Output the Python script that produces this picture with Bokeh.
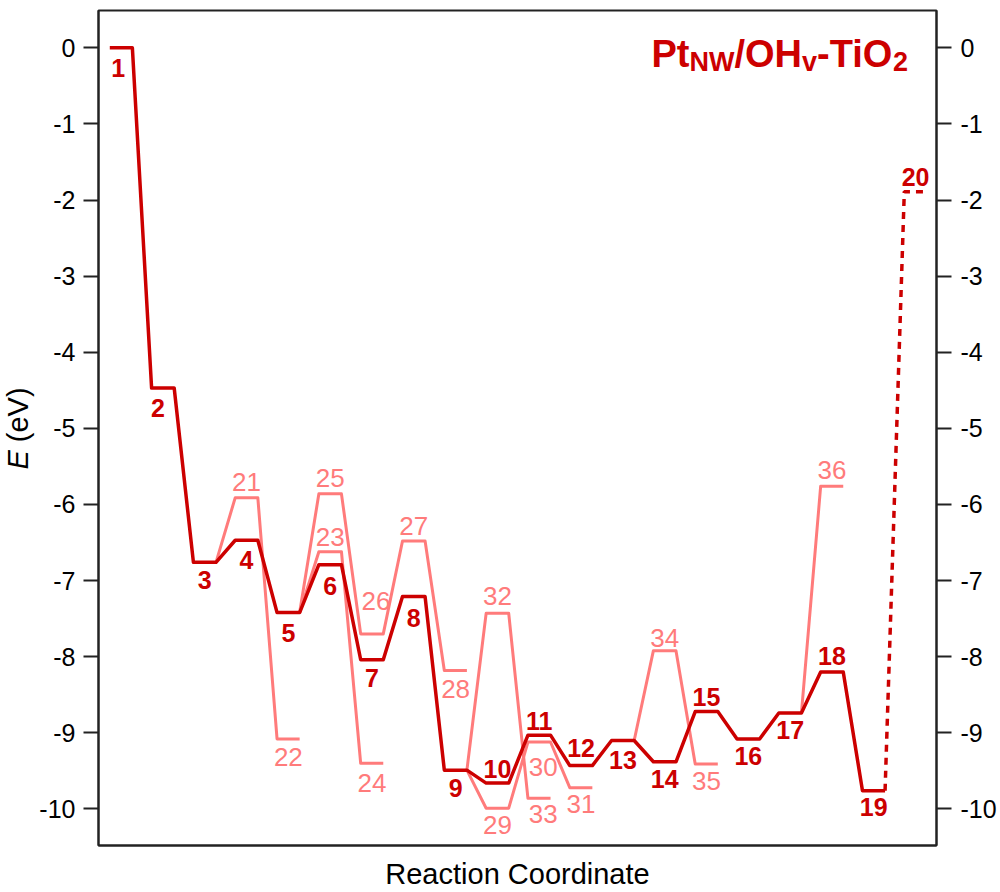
import math
from bokeh.plotting import figure
from bokeh.layouts import row
from bokeh.models import Label, LinearAxis, FixedTicker, Range1d, ColumnDataSource
from bokeh.core.properties import value
from bokeh.embed import file_html
from bokeh.resources import INLINE

# ---------------- data ----------------
main_labels = [str(i) for i in range(1, 21)]
main_pos = list(range(1, 21))
main_E = [0.00, -4.47, -6.76, -6.47, -7.42, -6.79, -8.04, -7.21, -9.49, -9.66,
          -9.03, -9.43, -9.10, -9.38, -8.72, -9.08, -8.74, -8.20, -9.76, -1.89]

side_labels = [str(i) for i in range(21, 37)]
side_pos = [4, 5, 6, 7, 6, 7, 8, 9, 10, 11, 12, 10, 11, 14, 15, 18]
side_E = [-5.91, -9.08, -6.62, -9.40, -5.86, -7.70, -6.48, -8.18,
          -9.99, -9.12, -9.72, -7.43, -9.86, -7.92, -9.41, -5.76]

branches = [["3", "21", "22"], ["5", "23", "24"], ["5", "25", "26", "27", "28"],
            ["9", "29", "30", "31"], ["9", "32", "33"], ["13", "34", "35"], ["17", "36"]]

y_ticks = list(range(-10, 1))
y_tick_text = [str(t) for t in y_ticks]

# ---------------- styles ----------------
DARK = "#CC0000"
PINK = "#FF7B7B"
AXC = "#222222"
HALF = 0.27
FONT = "Liberation Sans"
YLAB_W = 36
FRAME_TOP, FRAME_BOTTOM = 10, 847
# label offsets in pixels (+ = down)
main_dy = [20, 20, 18, 20, 20, 21, 18, 21, 18, -14, -14, -18, 20, 17, -15, 17, 17, -16, 16, -15]
main_dx = [-3, -5, 0, 0, 0, 0, 0, 0, 0, 0, 0, 0, 0, 0, 0, 0, 0, 0, 0, 0]
side_dy = [-16, 18, -15, 20, -16, -33, -15, 19, 17, 25, 16, -17, 16, -13, 17, -16]
side_dx = [0, 0, 0, 0, 0, 4, 0, 0, 0, 4, 0, 0, 4, 0, 0, 0]

pos = dict(zip(main_labels + side_labels, main_pos + side_pos))
E = dict(zip(main_labels + side_labels, main_E + side_E))


def path(states, from_right_end=False):
    xs, ys = [], []
    for k, s in enumerate(states):
        if k == 0 and from_right_end:
            xs.append(pos[s] + HALF)
            ys.append(E[s])
        else:
            xs += [pos[s] - HALF, pos[s] + HALF]
            ys += [E[s], E[s]]
    return xs, ys


p = figure(width=1000 - YLAB_W, height=892, x_range=Range1d(0.46, 20.5), y_range=Range1d(-10.48, 0.49),
           output_backend="svg", toolbar_location=None, title=None,
           x_axis_location="below", y_axis_location="left",
           min_border_left=97 - YLAB_W, min_border_right=64,
           min_border_top=FRAME_TOP, min_border_bottom=892 - FRAME_BOTTOM)
p.xgrid.visible = False
p.ygrid.visible = False
p.outline_line_color = AXC
p.outline_line_width = 2
p.background_fill_color = "white"
p.border_fill_color = "white"

# side branches (pink)
for br in branches:
    xs, ys = path(br, from_right_end=True)
    p.line(xs, ys, line_color=PINK, line_width=3, line_join="round")

# main pathway
xs, ys = path(main_labels[:19])
p.line(xs, ys, line_color=DARK, line_width=3.5, line_join="round")
xs, ys = path(main_labels[18:20], from_right_end=True)
p.line(xs, ys, line_color=DARK, line_width=3.5, line_dash="7 6")

# state labels
src_side = ColumnDataSource(dict(x=side_pos, y=side_E, text=side_labels, dx=side_dx, dy=side_dy))
p.text(x="x", y="y", text="text", x_offset="dx", y_offset="dy", source=src_side,
       text_color=PINK, text_font=value(FONT), text_font_size="26px",
       text_align="center", text_baseline="middle")
src_main = ColumnDataSource(dict(x=main_pos, y=main_E, text=main_labels, dx=main_dx, dy=main_dy))
p.text(x="x", y="y", text="text", x_offset="dx", y_offset="dy", source=src_main,
       text_color=DARK, text_font=value(FONT), text_font_size="25px", text_font_style="bold",
       text_align="center", text_baseline="middle")

# axes
def style_axis(ax, standoff):
    ax.ticker = FixedTicker(ticks=y_ticks)
    ax.major_label_overrides = dict(zip(y_ticks, y_tick_text))
    ax.axis_line_color = AXC
    ax.axis_line_width = 2
    ax.major_tick_line_color = AXC
    ax.major_tick_line_width = 2
    ax.major_tick_out = 15
    ax.major_tick_in = 0
    ax.minor_tick_line_color = None
    ax.major_label_standoff = standoff
    ax.major_label_text_font = FONT
    ax.major_label_text_font_size = "25px"
    ax.major_label_text_color = "black"

style_axis(p.yaxis[0], 8)
right = LinearAxis()
style_axis(right, 9)
p.add_layout(right, "right")

xa = p.xaxis[0]
xa.ticker = FixedTicker(ticks=[])
xa.major_tick_line_color = None
xa.minor_tick_line_color = None
xa.major_tick_out = 0
xa.minor_tick_out = 0
xa.major_label_standoff = 0
xa.axis_line_color = AXC
xa.axis_line_width = 2
xa.axis_label = "Reaction Coordinate"
xa.axis_label_text_font = FONT
xa.axis_label_text_font_size = "29px"
xa.axis_label_text_font_style = "normal"
xa.axis_label_text_color = "black"
xa.axis_label_standoff = 12

# title Pt_NW/OH_v-TiO_2 built from pieces
title_parts = [("Pt", False), ("NW", True), ("/", False), ("OH", False), ("v", True), ("-TiO", False), ("2", True)]
adv = {"P": .667, "t": .333, "N": .722, "W": .944, "/": .278, "O": .778, "H": .722,
       "v": .556, "-": .333, "T": .611, "i": .278, "2": .556}
BIG, SMALL = 38, 27
tx = 553.0
for txt, sub in title_parts:
    fs = SMALL if sub else BIG
    p.add_layout(Label(x=tx, y=784 if sub else 792, x_units="screen", y_units="screen", text=txt,
                       text_font=FONT, text_font_size=f"{fs}px", text_font_style="bold",
                       text_color=DARK, text_align="left", text_baseline="alphabetic"))
    tx += sum(adv[c] for c in txt) * fs

# y-axis title panel: E (eV) with italic E (frame aligned with the main plot frame)
ylab = figure(width=YLAB_W, height=892, x_range=Range1d(0, 1), y_range=Range1d(0, 1),
              output_backend="svg", toolbar_location=None, title=None,
              x_axis_location=None, y_axis_location=None,
              min_border_left=0, min_border_right=0,
              min_border_top=FRAME_TOP, min_border_bottom=892 - FRAME_BOTTOM)
ylab.xgrid.visible = False
ylab.ygrid.visible = False
ylab.outline_line_color = None
ylab.border_fill_color = "white"
ylab.background_fill_color = "white"
ylab_fs = 29
y_center = FRAME_BOTTOM - 430
e_w = 0.667 * ylab_fs
sp_w = 0.278 * ylab_fs
rest_w = (0.333 + 0.556 + 0.667 + 0.333) * ylab_fs
y_start = y_center - (e_w + sp_w + rest_w) / 2
ylab.add_layout(Label(x=17, y=y_start, x_units="screen", y_units="screen", text="E", angle=math.pi / 2,
                      text_font=FONT, text_font_size=f"{ylab_fs}px", text_font_style="italic",
                      text_align="left", text_baseline="alphabetic", text_color="black"))
ylab.add_layout(Label(x=17, y=y_start + e_w + sp_w, x_units="screen", y_units="screen", text="(eV)",
                      angle=math.pi / 2, text_font=FONT, text_font_size=f"{ylab_fs}px",
                      text_align="left", text_baseline="alphabetic", text_color="black"))

layout = row(ylab, p, spacing=0)
open("out.html", "w").write(file_html(layout, INLINE))
